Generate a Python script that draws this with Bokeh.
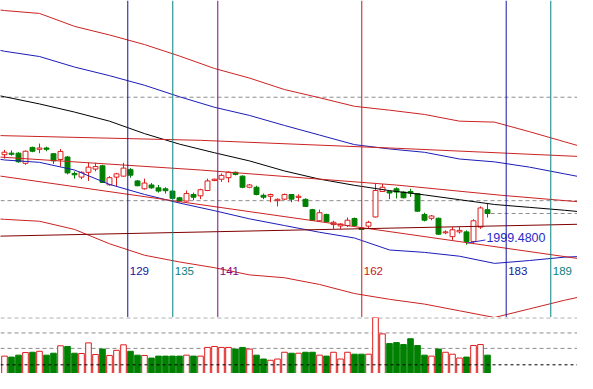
from bokeh.plotting import figure
from bokeh.layouts import column
from bokeh.models import Range1d, Span
from bokeh.embed import file_html
from bokeh.resources import INLINE
from bokeh.core.properties import value

# ---------------- data ----------------
opens = [2044.0, 2044.8, 2044.8, 2039.5, 2047.8, 2046.8, 2047.5, 2044.5, 2041.5, 2042.8,
         2034.2, 2032.3, 2034.8, 2036.5, 2038.2, 2028.3, 2032.3, 2032.8, 2036.2, 2030.3,
         2026.2, 2028.2, 2026.7, 2026.2, 2025.0, 2021.5, 2019.8, 2023.2, 2022.5, 2025.3,
         2030.5, 2031.2, 2032.0, 2034.8, 2032.8, 2027.0, 2027.0, 2022.8, 2022.3, 2020.0,
         2020.8, 2023.2, 2021.7, 2020.7, 2015.3, 2009.5, 2012.8, 2007.5, 2006.8, 2007.0,
         2010.7, 2005.7, 2006.7, 2011.5, 2024.8, 2024.8, 2026.2, 2024.5, 2024.8, 2023.7,
         2012.8, 2010.8, 2010.8, 2003.2, 2001.2, 2003.7, 2003.7, 1998.7, 2006.2, 2015.3]
highs = [2046.5, 2046.2, 2045.3, 2046.2, 2048.2, 2049.8, 2048.2, 2044.8, 2047.0, 2043.3,
         2035.3, 2035.3, 2039.8, 2039.8, 2038.7, 2032.8, 2034.5, 2039.8, 2037.0, 2030.8,
         2031.5, 2029.2, 2028.2, 2027.0, 2025.3, 2022.0, 2025.3, 2024.2, 2026.2, 2031.5,
         2031.5, 2034.2, 2035.3, 2035.2, 2033.2, 2028.7, 2027.8, 2023.7, 2023.7, 2021.2,
         2023.7, 2023.5, 2023.3, 2021.2, 2015.7, 2015.3, 2013.2, 2009.5, 2008.2, 2011.2,
         2011.2, 2006.0, 2009.5, 2028.7, 2028.7, 2025.3, 2027.0, 2024.8, 2026.2, 2024.0,
         2013.7, 2012.5, 2011.2, 2004.5, 2006.2, 2006.2, 2004.5, 2010.3, 2017.0, 2018.2]
lows = [2042.0, 2043.5, 2039.8, 2038.7, 2045.3, 2044.8, 2045.8, 2039.2, 2037.8, 2033.7,
        2031.5, 2031.2, 2030.3, 2035.3, 2029.2, 2027.8, 2027.3, 2032.5, 2032.0, 2027.5,
        2025.8, 2026.2, 2024.2, 2023.7, 2020.8, 2019.0, 2019.5, 2020.3, 2020.8, 2025.0,
        2030.2, 2029.8, 2029.5, 2033.2, 2026.5, 2026.5, 2022.8, 2020.8, 2019.2, 2017.0,
        2020.3, 2019.2, 2019.5, 2016.7, 2009.5, 2009.0, 2008.7, 2005.3, 2005.3, 2006.2,
        2006.7, 2004.7, 2005.3, 2011.2, 2024.5, 2020.8, 2021.2, 2021.2, 2022.0, 2014.2,
        2009.2, 2009.8, 2002.2, 2002.5, 1999.5, 2002.8, 1997.0, 1997.8, 2005.3, 2011.2]
closes = [2045.3, 2044.2, 2040.3, 2045.8, 2045.8, 2047.5, 2046.8, 2040.8, 2045.7, 2034.5,
          2033.5, 2034.8, 2037.5, 2037.8, 2029.5, 2032.0, 2034.0, 2037.0, 2033.3, 2027.8,
          2029.2, 2026.7, 2025.0, 2025.2, 2021.2, 2019.8, 2023.7, 2021.8, 2025.7, 2030.3,
          2031.2, 2033.2, 2034.8, 2033.7, 2027.0, 2028.2, 2023.2, 2021.8, 2023.2, 2020.7,
          2023.2, 2020.8, 2022.3, 2017.0, 2009.8, 2013.7, 2009.0, 2008.7, 2007.8, 2009.8,
          2007.0, 2005.0, 2008.7, 2025.3, 2027.0, 2024.0, 2024.5, 2021.5, 2024.0, 2014.5,
          2009.8, 2012.0, 2002.5, 2003.7, 2004.8, 2004.5, 1998.7, 2009.5, 2016.2, 2013.3]
volumes = [29, 28, 30, 32.7, 33, 34, 30, 32, 39.7, 39,
           32, 31.7, 42.7, 30.7, 36.3, 29.7, 35, 40.7, 34, 30,
           29.7, 27, 29, 29, 29, 29, 30, 29, 29, 38,
           39, 38, 38, 36.3, 38, 36.3, 30, 26, 24.7, 26,
           33, 32, 32, 33, 33, 30, 29, 33, 26, 33,
           31, 31, 31, 69, 52, 42, 43, 41, 47, 40,
           30, 29, 36.3, 33, 31, 27, 28, 40, 41, 30]

# indicator curves, sampled at bar positions
band_x = [-1, 0, 5, 10, 15, 20, 25, 30, 35, 40, 45, 50, 55, 60, 65, 70, 75, 80, 85]
upper_red = [2119.75, 2119.25, 2117.75, 2111.0, 2106.5, 2101.5, 2095.5, 2089.0, 2084.0, 2078.0,
             2073.75, 2069.25, 2067.25, 2065.0, 2061.5, 2061.0, 2056.0, 2050.75, 2045.5]
upper_blue = [2098.75, 2098.0, 2095.25, 2089.75, 2085.25, 2080.25, 2074.25, 2068.75, 2064.5, 2059.25,
              2054.25, 2049.25, 2047.0, 2045.25, 2041.75, 2040.25, 2037.5, 2034.0, 2030.5]
middle_black = [2075.0, 2074.25, 2070.5, 2066.25, 2061.5, 2055.0, 2049.5, 2045.0, 2040.75, 2035.5,
                2031.25, 2028.0, 2025.25, 2023.0, 2020.5, 2018.0, 2016.5, 2015.0, 2013.25]
lower_blue = [2041.75, 2041.25, 2040.0, 2036.0, 2028.5, 2023.25, 2018.75, 2014.75, 2010.5, 2007.0,
              2003.5, 2000.5, 1994.25, 1993.0, 1991.0, 1987.25, 1988.75, 1990.5, 1991.25]
lower_red = [2010.5, 2010.25, 2009.25, 2005.0, 1997.5, 1991.5, 1988.0, 1985.0, 1981.25, 1979.75,
             1976.25, 1971.5, 1968.5, 1966.0, 1962.5, 1959.0, 1963.5, 1968.0, 1972.0]

# straight trend / channel lines
line_a_x = [-1, 28, 56, 85]
line_a_y = [2054.0, 2051.5, 2047.35, 2042.6]
line_b_x = [-1, 28, 56, 71, 85]
line_b_y = [2042.85, 2036.0, 2028.15, 2022.8, 2018.5]
line_c_x = [-1, 85]
line_c_y = [2033.05, 1988.2]
line_d_x = [-1, 85]
line_d_y = [2001.45, 2007.9]

# short labelled trendline
tl_x = [66.1, 68.7]
tl_y = [1997.85, 1999.48]
tl_label = "1999.4800"

# vertical time lines
vline_pos = [17.61, 24.04, 30.47, 51.04, 71.67, 78.04]
vline_labels = ["129", "135", "141", "162", "183", "189"]
vline_colors = ["#1414A0", "#0A8080", "#800A80", "#C81818", "#1414A0", "#0A8080"]
vline_label_level = 1983.5

grid_levels = [2074, 2020]
vol_grid_levels = [68.6, 53, 37]
vol_ref_level = 20

# ---------------- styling ----------------
RED = "#E01C1C"
LINE_RED = "#CC2222"
GREEN = "#008000"
BLUE = "#1C1CB8"
MAROON = "#800000"
GRAY = "#8C8C8C"

n = len(opens)
idx = list(range(n))
up = [c >= o for o, c in zip(opens, closes)]
col = [RED if u else GREEN for u in up]
fill = ["#FFFFFF" if u else GREEN for u in up]
body_top = [max(o, c) for o, c in zip(opens, closes)]
body_bot = [min(o, c) for o, c in zip(opens, closes)]

x_range = Range1d(-4 / 7, 573 / 7)

p1 = figure(width=577, height=317, x_range=x_range, y_range=Range1d(1959.0, 2124.5),
            x_axis_location=None, y_axis_location=None, toolbar_location=None,
            output_backend="svg", min_border=0, outline_line_color=None,
            background_fill_color="white", border_fill_color="white")
p1.grid.visible = False

for lvl in grid_levels:
    p1.add_layout(Span(location=lvl, dimension="width", line_color=GRAY,
                       line_dash="4 3", line_width=1, level="underlay"))

# candles
p1.segment(x0=idx, y0=lows, x1=idx, y1=highs, line_color=col, line_width=1)
p1.vbar(x=idx, width=0.7, top=body_top, bottom=body_bot,
        fill_color=fill, line_color=col, line_width=1)

# last price line
p1.segment(x0=[n - 1 + 0.45], y0=[closes[-1]], x1=[90], y1=[closes[-1]],
           line_color=GRAY, line_dash="4 3", line_width=1)

# indicator lines
p1.line(band_x, upper_red, line_color=LINE_RED, line_width=1)
p1.line(band_x, upper_blue, line_color=BLUE, line_width=1)
p1.line(band_x, middle_black, line_color="black", line_width=1)
p1.line(band_x, lower_blue, line_color=BLUE, line_width=1)
p1.line(band_x, lower_red, line_color=LINE_RED, line_width=1)
p1.line(line_a_x, line_a_y, line_color=LINE_RED, line_width=1)
p1.line(line_b_x, line_b_y, line_color=LINE_RED, line_width=1)
p1.line(line_c_x, line_c_y, line_color=LINE_RED, line_width=1)
p1.line(line_d_x, line_d_y, line_color=MAROON, line_width=1)

p1.line(tl_x, tl_y, line_color="#2B2BC8", line_width=1)
p1.text(x=[tl_x[-1]], y=[tl_y[-1]], text=[tl_label], text_color="#2B2BC8",
        text_font=value("Liberation Sans"), text_font_size="12.5px",
        text_baseline="middle", text_align="left", x_offset=1, y_offset=-2)

for pos, c in zip(vline_pos, vline_colors):
    p1.add_layout(Span(location=pos, dimension="height", line_color=c, line_width=1))

p1.text(x=vline_pos, y=[vline_label_level] * len(vline_pos), text=vline_labels,
        text_color=vline_colors, text_font=value("Liberation Sans"),
        text_font_size="11.5px", text_baseline="middle", text_align="left", x_offset=2)

# ---------------- volume pane ----------------
p2 = figure(width=577, height=56, x_range=x_range, y_range=Range1d(11, 69),
            x_axis_location=None, y_axis_location=None, toolbar_location=None,
            output_backend="svg", min_border=0, outline_line_color=None,
            background_fill_color="white", border_fill_color="white")
p2.grid.visible = False

for lvl in vol_grid_levels:
    p2.add_layout(Span(location=lvl, dimension="width", line_color=GRAY,
                       line_dash="4 3", line_width=1, level="underlay"))

p2.vbar(x=idx, width=0.8, top=volumes, bottom=0, fill_color=fill, line_color=col, line_width=1)
p2.add_layout(Span(location=vol_ref_level, dimension="width", line_color="black",
                   line_dash="3 3", line_width=1))

layout = column(p1, p2, spacing=0)
open("out.html", "w").write(file_html(layout, INLINE))
